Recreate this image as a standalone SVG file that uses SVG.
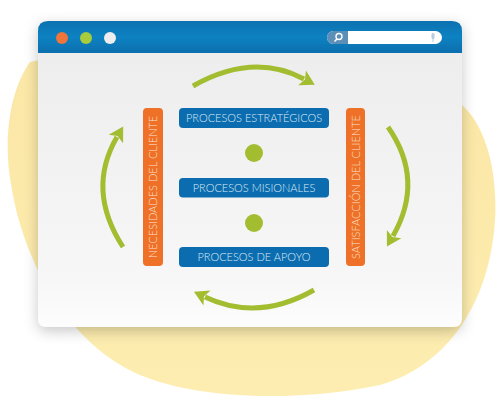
<svg xmlns="http://www.w3.org/2000/svg" width="500" height="400" viewBox="0 0 500 400">
<defs>
<style>
.bar{fill:#EE7127}
.box{fill:#0B6DAF}
.dot{fill:#A3BD31}
.btxt{font-family:Lato,"Liberation Sans",sans-serif;font-weight:300;font-size:11px;fill:#DCE9F5;text-anchor:middle}
.vtxt{font-family:Lato,"Liberation Sans",sans-serif;font-weight:300;font-size:11px;fill:#FCE0CF;text-anchor:middle}
.arr{fill:none;stroke:#A3BD31;stroke-width:5;marker-end:url(#ah)}
</style>
<marker id="ah" markerUnits="userSpaceOnUse" markerWidth="20" markerHeight="20" refX="2" refY="0" viewBox="-2 -9 18 18" orient="auto" overflow="visible">
<path d="M0,-7.5 L13,0 L0,7.5 L3,0 Z" fill="#A3BD31"/>
</marker>
<linearGradient id="yel" x1="0" y1="0" x2="0" y2="1">
<stop offset="0" stop-color="#FBE7A6"/>
<stop offset="1" stop-color="#FDEDB0"/>
</linearGradient>
<linearGradient id="body" x1="0" y1="0" x2="0" y2="1">
<stop offset="0" stop-color="#ECECEC"/>
<stop offset="0.85" stop-color="#F7F7F7"/>
<stop offset="1" stop-color="#FDFDFD"/>
</linearGradient>
<linearGradient id="title" x1="0" y1="0" x2="0" y2="1">
<stop offset="0" stop-color="#0A71B0"/>
<stop offset="0.5" stop-color="#0E82C2"/>
<stop offset="1" stop-color="#0A6EAE"/>
</linearGradient>
<filter id="sh" x="-10%" y="-10%" width="120%" height="130%">
<feDropShadow dx="0" dy="4" stdDeviation="7" flood-color="#000" flood-opacity="0.22"/>
</filter>
</defs>
<rect width="500" height="400" fill="#FFFFFF"/>
<path id="blob" d="M30,62 C10,90 2,140 12,190 C25,265 70,345 140,375 C200,400 300,402 380,385 C450,365 490,300 495,220 C498,170 485,125 462,105 L462,60 L40,60 Z" fill="url(#yel)"/>
<g id="window" filter="url(#sh)">
<path d="M48,21 H452 Q462,21 462,31 V318 Q462,327 453,327 H47 Q38,327 38,318 V31 Q38,21 48,21 Z" fill="url(#body)"/>
<path d="M48,21 H452 Q462,21 462,31 V53 H38 V31 Q38,21 48,21 Z" fill="url(#title)"/>
<circle cx="62" cy="38" r="6" fill="#F0743A"/>
<circle cx="86" cy="38" r="6" fill="#A8CC3A"/>
<circle cx="110" cy="38" r="6" fill="#EEEEEE"/>
<rect x="327" y="31" width="115" height="13" rx="6.5" fill="#FFFFFF"/>
<path d="M333.5,31 H348 V44 H333.5 A6.5,6.5 0 0 1 333.5,31 Z" fill="#5B8FB8"/>
<circle cx="339" cy="36.5" r="3" fill="none" stroke="#FFFFFF" stroke-width="1.4"/>
<line x1="337" y1="39" x2="334.5" y2="41.5" stroke="#FFFFFF" stroke-width="1.6"/>
<rect x="431.5" y="33" width="3" height="6" rx="1.5" fill="#B8CCE0"/>
<line x1="433" y1="39" x2="433" y2="42" stroke="#B8CCE0" stroke-width="1"/>
</g>
<g id="connectors">
<path class="arr" d="M193,86 Q253,52 304,79"/>
<path class="arr" d="M388,127 Q425,180 393,236"/>
<path class="arr" d="M314,290 Q258,322 205,297"/>
<path class="arr" d="M123,247 Q86,190 117,137"/>
</g>
<g id="necesidades">
<rect class="bar" x="143" y="108" width="20" height="158" rx="4"/>
<text class="vtxt" transform="translate(157,187) rotate(-90)">NECESIDADES DEL CLIENTE</text>
</g>
<g id="satisfaccion">
<rect class="bar" x="346" y="108" width="19" height="158" rx="4"/>
<text class="vtxt" transform="translate(359.5,187) rotate(-90)">SATISFACCIÓN DEL CLIENTE</text>
</g>
<g id="estrategicos">
<rect class="box" x="179" y="108" width="150" height="20" rx="4"/>
<text class="btxt" x="254" y="122">PROCESOS ESTRATÉGICOS</text>
</g>
<g id="dot1"><circle class="dot" cx="254" cy="153" r="9"/></g>
<g id="misionales">
<rect class="box" x="179" y="178" width="150" height="19.5" rx="4"/>
<text class="btxt" x="254" y="191.7">PROCESOS MISIONALES</text>
</g>
<g id="dot2"><circle class="dot" cx="254" cy="223" r="9"/></g>
<g id="apoyo">
<rect class="box" x="179" y="247" width="150" height="20" rx="4"/>
<text class="btxt" x="254" y="261">PROCESOS DE APOYO</text>
</g>
</svg>
